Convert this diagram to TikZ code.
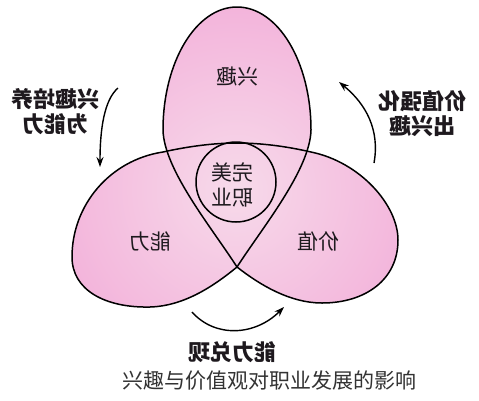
\documentclass[tikz,border=0pt]{standalone}
\usepackage{fontspec}
\setmainfont{Noto Sans CJK SC}
\usetikzlibrary{arrows.meta}
\definecolor{pinkout}{RGB}{240,152,208}
\definecolor{pinkin}{RGB}{247,218,234}
\definecolor{txt}{RGB}{30,25,30}
\tikzset{
  lobe/.style={draw=black, line width=1.5pt, line join=round},
  mir/.style={xscale=-1, align=center, text=txt},
  lbl/.style={mir, font=\fontsize{21}{25}\selectfont},
  arrtxt/.style={mir, font=\fontsize{22}{25}\selectfont\bfseries},
  arr/.style={draw=black, line width=1.4pt, -{Stealth[length=10pt,width=7pt]}},
  captxt/.style={text=black!80, font=\fontsize{21}{25}\selectfont}
}
\def\topegg{(237,267) .. controls (212,228) and (164,170) .. (163,130)
   .. controls (163,62) and (196,7) .. (237,7)
   .. controls (278,7) and (311,62) .. (311,130)
   .. controls (310,170) and (262,228) .. (237,267) -- cycle}
\def\leftlobe{(237,267) .. controls (215,285) and (185,306) .. (150,307)
   .. controls (105,308) and (72,290) .. (72,257)
   .. controls (72,205) and (110,160) .. (163,152)
   .. controls (190,146) and (215,143) .. (237,143)}
\def\rightlobe{(237,267) .. controls (260,285) and (290,303) .. (322,303)
   .. controls (365,303) and (398,280) .. (398,240)
   .. controls (398,205) and (360,162) .. (311,152)
   .. controls (285,146) and (260,143) .. (237,143)}
\newcommand\pinkshade{\shade[inner color=pinkin, outer color=pinkout] (236,190) circle (320pt);}
\begin{document}
\begin{tikzpicture}[x=1pt,y=-1pt]
\useasboundingbox[fill=white] (0,0) rectangle (479,400);
% shaded fills
\begin{scope}\clip \topegg; \pinkshade \end{scope}
\begin{scope}\clip \leftlobe -- (300,165) -- cycle; \pinkshade \end{scope}
\begin{scope}\clip \rightlobe -- (174,165) -- cycle; \pinkshade \end{scope}
% outlines
\draw[lobe] \topegg;
\draw[lobe] \leftlobe;
\draw[lobe] \rightlobe;
\node[draw=black, line width=1.5pt, circle, minimum size=80pt, inner sep=0pt] (ring) at (236,182) {};
% labels
\node[lbl] (xq) at (237,77) {兴趣};
\node[lbl] (nl) at (150,242) {能力};
\node[lbl] (jz) at (318,242) {价值};
\node[lbl] (wm) at (232,185) {完美\\职业};
% arrows
\coordinate (a1s) at (118,88);
\coordinate (a1e) at (100,167);
\coordinate (a2s) at (374,163);
\coordinate (a2e) at (339,82);
\coordinate (a3s) at (192,312);
\coordinate (a3e) at (284,307);
\draw[arr] (a1s) .. controls (104,100) and (100,130) .. (a1e);
\draw[arr] (a2s) .. controls (380,130) and (366,104) .. (a2e);
\draw[arr] (a3s) .. controls (215,338) and (255,336) .. (a3e);
\node[arrtxt] (t1) at (55,112) {兴趣培养\\为能力};
\node[arrtxt] (t2) at (422,114) {价值强化\\出兴趣};
\node[arrtxt] (t3) at (232,352) {能力兑现};
\node[captxt] (c) at (269,381) {兴趣与价值观对职业发展的影响};
\end{tikzpicture}
\end{document}
